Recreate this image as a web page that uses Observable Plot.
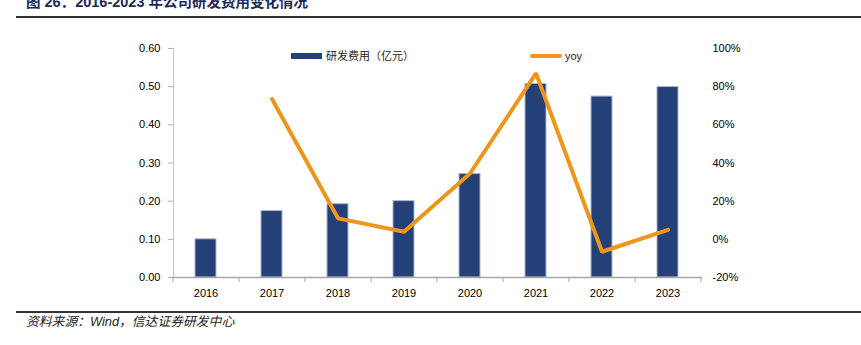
<!DOCTYPE html>
<html><head><meta charset="utf-8">
<script src="https://cdn.jsdelivr.net/npm/d3@7"></script>
<script src="https://cdn.jsdelivr.net/npm/@observablehq/plot@0.6"></script>
<style>
body{margin:0;background:#fff;}
#wrap{position:relative;width:861px;height:345px;overflow:hidden;font-family:"Liberation Sans",Arial,"Noto Sans CJK SC",sans-serif;}
#wrap svg{position:absolute;left:0;top:0;}
.abs{position:absolute;white-space:nowrap;}
#title{left:26px;top:-7px;font-size:14.5px;font-weight:bold;color:#1b2a5c;line-height:18px;}
#rule1{left:16px;top:16px;width:845px;height:2px;background:#333;}
#rule2{left:16px;top:311px;width:845px;height:2px;background:#333;}
#source{left:26px;top:314px;font-size:12.8px;font-style:italic;color:#222;line-height:16px;}
.lg{font-size:11px;color:#222;line-height:14px;}
</style></head><body><div id="wrap">
<div class="abs" id="title">图 26：2016-2023 年公司研发费用变化情况</div>
<div class="abs" id="rule1"></div>
<div class="abs" id="rule2"></div>
<div class="abs" id="source">资料来源：Wind，信达证券研发中心</div>
<div class="abs" style="left:291px;top:53px;width:31px;height:6px;background:#234176;"></div>
<div class="abs lg" style="left:326px;top:49px;">研发费用（亿元）</div>
<div class="abs" style="left:530px;top:54px;width:32px;height:4px;border-radius:2px;background:#ee961b;"></div>
<div class="abs lg" style="left:565px;top:49px;">yoy</div>
</div>
<script>
const years = ["2016","2017","2018","2019","2020","2021","2022","2023"];
const rdExpense = [0.10,0.174,0.192,0.200,0.271,0.507,0.474,0.499];
const yoyYears = ["2017","2018","2019","2020","2021","2022","2023"];
const yoy = [0.735,0.11,0.04,0.345,0.87,-0.065,0.05];
const leftTicks = [0,0.1,0.2,0.3,0.4,0.5,0.6];
const rightTicks = [-0.2,0,0.2,0.4,0.6,0.8,1.0];

const toLeft = r => 0.1 + r * 0.5;
const barData = years.map((y, i) => ({year: y, value: rdExpense[i]}));
const lineData = yoyYears.map((y, i) => ({year: y, yoy: yoy[i]}));

const W = 861, H = 345, mL = 173, mR = 160, mT = 48, mB = 68;
const step = (W - mL - mR) / years.length;

const chart = Plot.plot({
  width: W, height: H,
  marginLeft: mL, marginRight: mR, marginTop: mT, marginBottom: mB,
  style: {fontFamily: '"Liberation Sans", Arial, "Noto Sans CJK SC", sans-serif', fontSize: "11px", color: "#000", background: "transparent"},
  x: {domain: years, paddingInner: 0.68, paddingOuter: 0.34, axis: null, label: null},
  y: {domain: [0, 0.6], axis: null, label: null},
  marks: [
    Plot.frame({anchor: "left", stroke: "#c4c4c4"}),
    Plot.axisY({anchor: "left", label: null, ticks: leftTicks, tickFormat: d => d.toFixed(2), tickSize: 5, tickPadding: 8, stroke: "#b0b0b0", fill: "#000"}),
    Plot.axisY({anchor: "right", label: null, ticks: rightTicks.map(toLeft), tickFormat: d => Math.round((d - 0.1) / 0.5 * 100) + "%", tickSize: 0, tickPadding: 11, fill: "#000"}),
    Plot.barY(barData, {x: "year", y: "value", fill: "#234176", stroke: "#a9b4cc", strokeWidth: 1}),
    Plot.frame({anchor: "bottom", stroke: "#a6a6a6", strokeWidth: 1.6}),
    Plot.axisX({anchor: "bottom", label: null, ticks: years, tickSize: 5, tickFormat: () => "", dx: -step / 2, stroke: "#a6a6a6"}),
    Plot.axisX({anchor: "bottom", label: null, ticks: [years[years.length - 1]], tickSize: 5, tickFormat: () => "", dx: step / 2, stroke: "#a6a6a6"}),
    Plot.axisX({anchor: "bottom", label: null, ticks: years, tickSize: 0, tickPadding: 12, fill: "#000"}),
    Plot.lineY(lineData, {x: "year", y: d => toLeft(d.yoy), stroke: "#ee961b", strokeWidth: 4, strokeLinejoin: "miter", strokeLinecap: "round"})
  ]
});
document.getElementById("wrap").prepend(chart);
</script>
</body></html>
